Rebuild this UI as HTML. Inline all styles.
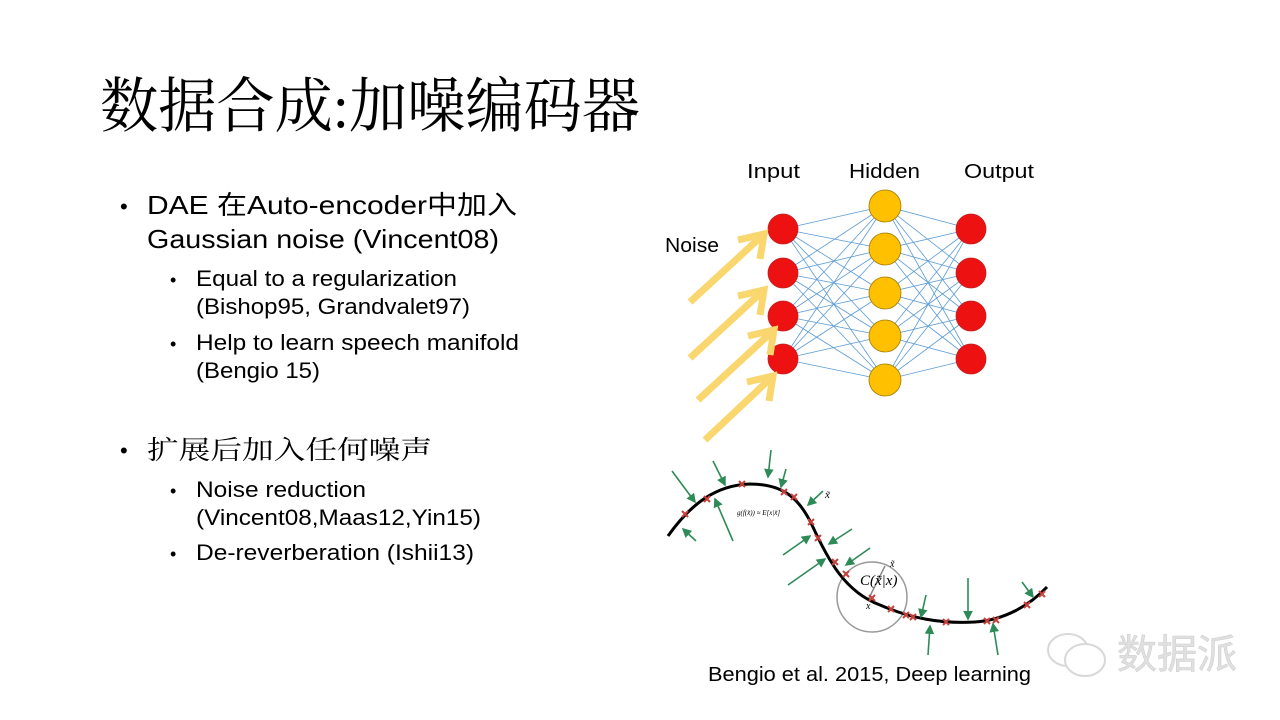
<!DOCTYPE html>
<html><head><meta charset="utf-8"><style>
html,body{margin:0;padding:0;background:#fff;}
svg{display:block;}
.t{font-family:"Liberation Sans","Noto Sans CJK SC",sans-serif;fill:#000;}
.s{font-family:"Liberation Serif","Noto Serif CJK SC",serif;fill:#000;}
</style></head><body>
<svg width="1280" height="720" viewBox="0 0 1280 720" xmlns="http://www.w3.org/2000/svg">
<defs>
<marker id="g" markerWidth="6" markerHeight="6" refX="5" refY="3" orient="auto" markerUnits="strokeWidth"><path d="M0,0 L6,3 L0,6 z" fill="#2e8b57"/></marker>
</defs>
<text class="s" x="100" y="127" font-size="60" textLength="540" lengthAdjust="spacingAndGlyphs">数据合成:加噪编码器</text>

<g font-size="26">
<text class="t" x="120" y="214" font-size="22">•</text>
<text class="t" x="147" y="214" textLength="370" lengthAdjust="spacingAndGlyphs">DAE 在Auto-encoder中加入</text>
<text class="t" x="147" y="248" textLength="352" lengthAdjust="spacingAndGlyphs">Gaussian noise (Vincent08)</text>
<text class="t" x="120" y="458" font-size="22">•</text>
<text class="s" x="147" y="459" textLength="285" lengthAdjust="spacingAndGlyphs">扩展后加入任何噪声</text>
</g>
<g font-size="22">
<text class="t" x="170" y="286" font-size="18">•</text>
<text class="t" x="196" y="286" textLength="261" lengthAdjust="spacingAndGlyphs">Equal to a regularization</text>
<text class="t" x="196" y="314" textLength="274" lengthAdjust="spacingAndGlyphs">(Bishop95, Grandvalet97)</text>
<text class="t" x="170" y="350" font-size="18">•</text>
<text class="t" x="196" y="350" textLength="323" lengthAdjust="spacingAndGlyphs">Help to learn speech manifold</text>
<text class="t" x="196" y="378" textLength="124" lengthAdjust="spacingAndGlyphs">(Bengio 15)</text>
<text class="t" x="170" y="497" font-size="18">•</text>
<text class="t" x="196" y="497" textLength="170" lengthAdjust="spacingAndGlyphs">Noise reduction</text>
<text class="t" x="196" y="525" textLength="285" lengthAdjust="spacingAndGlyphs">(Vincent08,Maas12,Yin15)</text>
<text class="t" x="170" y="560" font-size="18">•</text>
<text class="t" x="196" y="560" textLength="278" lengthAdjust="spacingAndGlyphs">De-reverberation (Ishii13)</text>
</g>

<g font-size="20" class="t">
<text class="t" x="747" y="178" textLength="53" lengthAdjust="spacingAndGlyphs">Input</text>
<text class="t" x="849" y="178" textLength="71" lengthAdjust="spacingAndGlyphs">Hidden</text>
<text class="t" x="964" y="178" textLength="70" lengthAdjust="spacingAndGlyphs">Output</text>
<text class="t" x="665" y="252" textLength="54" lengthAdjust="spacingAndGlyphs">Noise</text>
<text class="t" x="708" y="681" textLength="323" lengthAdjust="spacingAndGlyphs">Bengio et al. 2015, Deep learning</text>
</g>

<g stroke="#5b9bd5" stroke-width="0.8">
<!-- input to hidden -->
<g id="ih">
<line x1="783" y1="229" x2="885" y2="206"/><line x1="783" y1="229" x2="885" y2="249"/><line x1="783" y1="229" x2="885" y2="293"/><line x1="783" y1="229" x2="885" y2="336"/><line x1="783" y1="229" x2="885" y2="380"/>
<line x1="783" y1="273" x2="885" y2="206"/><line x1="783" y1="273" x2="885" y2="249"/><line x1="783" y1="273" x2="885" y2="293"/><line x1="783" y1="273" x2="885" y2="336"/><line x1="783" y1="273" x2="885" y2="380"/>
<line x1="783" y1="316" x2="885" y2="206"/><line x1="783" y1="316" x2="885" y2="249"/><line x1="783" y1="316" x2="885" y2="293"/><line x1="783" y1="316" x2="885" y2="336"/><line x1="783" y1="316" x2="885" y2="380"/>
<line x1="783" y1="359" x2="885" y2="206"/><line x1="783" y1="359" x2="885" y2="249"/><line x1="783" y1="359" x2="885" y2="293"/><line x1="783" y1="359" x2="885" y2="336"/><line x1="783" y1="359" x2="885" y2="380"/>
</g>
<line x1="971" y1="229" x2="885" y2="206"/><line x1="971" y1="229" x2="885" y2="249"/><line x1="971" y1="229" x2="885" y2="293"/><line x1="971" y1="229" x2="885" y2="336"/><line x1="971" y1="229" x2="885" y2="380"/>
<line x1="971" y1="273" x2="885" y2="206"/><line x1="971" y1="273" x2="885" y2="249"/><line x1="971" y1="273" x2="885" y2="293"/><line x1="971" y1="273" x2="885" y2="336"/><line x1="971" y1="273" x2="885" y2="380"/>
<line x1="971" y1="316" x2="885" y2="206"/><line x1="971" y1="316" x2="885" y2="249"/><line x1="971" y1="316" x2="885" y2="293"/><line x1="971" y1="316" x2="885" y2="336"/><line x1="971" y1="316" x2="885" y2="380"/>
<line x1="971" y1="359" x2="885" y2="206"/><line x1="971" y1="359" x2="885" y2="249"/><line x1="971" y1="359" x2="885" y2="293"/><line x1="971" y1="359" x2="885" y2="336"/><line x1="971" y1="359" x2="885" y2="380"/>
</g>
<g fill="#ee1111" stroke="#b22" stroke-width="0.8">
<circle cx="783" cy="229" r="15"/><circle cx="783" cy="273" r="15"/><circle cx="783" cy="316" r="15"/><circle cx="783" cy="359" r="15"/>
<circle cx="971" cy="229" r="15"/><circle cx="971" cy="273" r="15"/><circle cx="971" cy="316" r="15"/><circle cx="971" cy="359" r="15"/>
</g>
<g fill="#ffc000" stroke="#a07a00" stroke-width="0.8">
<circle cx="885" cy="206" r="16"/><circle cx="885" cy="249" r="16"/><circle cx="885" cy="293" r="16"/><circle cx="885" cy="336" r="16"/><circle cx="885" cy="380" r="16"/>
</g>
<g stroke="#fad66e" stroke-width="7" fill="none" stroke-linecap="butt">
<line x1="690" y1="302" x2="764" y2="234"/><path d="M738,240 L764,234 L760,259"/>
<line x1="690" y1="358" x2="764" y2="290"/><path d="M738,296 L764,290 L760,315"/>
<line x1="698" y1="400" x2="774" y2="330"/><path d="M748,336 L774,330 L770,355"/>
<line x1="705" y1="440" x2="773" y2="376"/><path d="M747,382 L773,376 L769,401"/>
</g>

<!-- manifold -->
<circle cx="872" cy="597" r="35" fill="none" stroke="#999" stroke-width="1.5"/>
<line x1="868" y1="600" x2="885" y2="566" stroke="#888" stroke-width="1.5"/>
<path d="M668,536 C690,505 715,485 750,484 C785,484 800,500 812,525 C828,560 845,592 880,605 C910,618 940,624 975,622 C1005,620 1030,605 1047,587" fill="none" stroke="#000" stroke-width="3"/>
<g stroke="#c9403a" stroke-width="2">
<path d="M682,511 l6,6 m0,-6 l-6,6"/><path d="M704,496 l6,6 m0,-6 l-6,6"/><path d="M739,481 l6,6 m0,-6 l-6,6"/><path d="M781,489 l6,6 m0,-6 l-6,6"/><path d="M791,494 l6,6 m0,-6 l-6,6"/>
<path d="M808,519 l6,6 m0,-6 l-6,6"/><path d="M815,535 l6,6 m0,-6 l-6,6"/><path d="M832,559 l6,6 m0,-6 l-6,6"/><path d="M843,571 l6,6 m0,-6 l-6,6"/>
<path d="M869,595 l6,6 m0,-6 l-6,6"/><path d="M888,606 l6,6 m0,-6 l-6,6"/><path d="M903,612 l6,6 m0,-6 l-6,6"/><path d="M910,614 l6,6 m0,-6 l-6,6"/>
<path d="M943,619 l6,6 m0,-6 l-6,6"/><path d="M984,618 l6,6 m0,-6 l-6,6"/><path d="M993,617 l6,6 m0,-6 l-6,6"/><path d="M1024,602 l6,6 m0,-6 l-6,6"/><path d="M1039,591 l6,6 m0,-6 l-6,6"/>
</g>
<g stroke="#2e8b57" stroke-width="1.6" marker-end="url(#g)">
<line x1="672" y1="471" x2="695" y2="502"/><line x1="713" y1="461" x2="725" y2="485"/><line x1="771" y1="450" x2="768" y2="477"/><line x1="786" y1="469" x2="781" y2="487"/>
<line x1="823" y1="491" x2="808" y2="505"/><line x1="696" y1="541" x2="683" y2="529"/><line x1="733" y1="541" x2="715" y2="499"/>
<line x1="783" y1="555" x2="810" y2="536"/><line x1="852" y1="529" x2="829" y2="544"/><line x1="788" y1="585" x2="825" y2="559"/><line x1="870" y1="548" x2="846" y2="565"/>
<line x1="968" y1="578" x2="968" y2="619"/><line x1="926" y1="595" x2="921" y2="617"/><line x1="928" y1="655" x2="930" y2="626"/><line x1="998" y1="655" x2="993" y2="624"/><line x1="1022" y1="582" x2="1033" y2="597"/>
</g>
<text class="s" x="825" y="498" font-size="11" font-style="italic">x̃</text>
<text class="s" x="737" y="515" font-size="7" font-style="italic">g(f(x̃)) ≈ E[x|x̃]</text>
<text class="s" x="860" y="585" font-size="15" font-style="italic">C(x̃|x)</text>
<text class="s" x="890" y="567" font-size="10" font-style="italic">x̃</text>
<text class="s" x="866" y="609" font-size="10" font-style="italic">x</text>

<!-- watermark -->
<g fill="none" stroke="#d8d8d8" stroke-width="2">
<ellipse cx="1068" cy="650" rx="20" ry="16"/>
<ellipse cx="1085" cy="660" rx="20" ry="16" fill="#fff"/>
</g>
<text x="1117" y="668" font-size="40" fill="#e0e0e0" stroke="#cfcfcf" stroke-width="0.6" font-family="'Noto Sans CJK SC',sans-serif">数据派</text>
</svg>
</body></html>
